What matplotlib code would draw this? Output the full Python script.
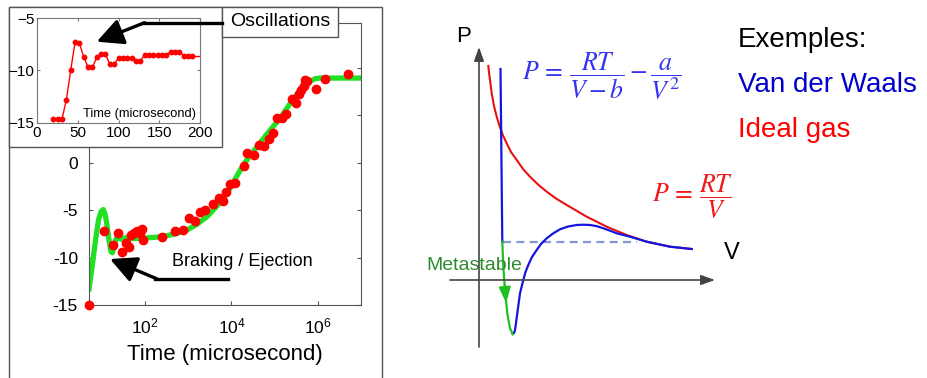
import numpy as np
import matplotlib
matplotlib.use('Agg')
import matplotlib.pyplot as plt
from matplotlib.patches import Rectangle, FancyArrowPatch
from matplotlib.lines import Line2D
from matplotlib.ticker import FuncFormatter, NullLocator

plt.rcParams['font.family'] = ['Liberation Sans', 'DejaVu Sans']
plt.rcParams['mathtext.fontset'] = 'custom'
plt.rcParams['mathtext.rm'] = 'Liberation Sans'
plt.rcParams['mathtext.it'] = 'Liberation Sans:italic'

W, H = 927, 378

# --- left panel: measured points (log10 of time in microseconds) ---
dot_logt = [0.70, 1.05, 1.25, 1.37, 1.47, 1.56, 1.63, 1.675, 1.745, 1.81, 1.87,
            1.92, 1.96, 2.40, 2.70, 2.87, 3.02, 3.16, 3.26, 3.39, 3.57, 3.70,
            3.80, 3.88, 3.97, 4.09, 4.28, 4.37, 4.51, 4.63, 4.76, 4.86, 4.96,
            5.06, 5.17, 5.26, 5.39, 5.49, 5.56, 5.62, 5.67, 5.70, 5.74, 5.96,
            6.17, 6.69]
dot_val = [-15.0, -7.25, -8.7, -7.4, -9.4, -8.5, -8.9, -7.6, -7.4, -7.25, -7.4,
           -7.0, -8.2, -7.8, -7.25, -7.1, -5.85, -6.2, -5.2, -4.95, -4.4, -3.7,
           -4.0, -3.1, -2.3, -2.1, -0.35, 1.0, 0.85, 1.9, 1.7, 2.5, 3.1,
           4.65, 4.7, 5.1, 6.7, 6.25, 7.2, 7.6, 8.1, 8.7, 8.6, 7.7,
           8.8, 9.3]

# model curve
fit_logt = [0.70, 0.77, 0.84, 0.92, 0.98, 1.03, 1.07, 1.11, 1.16, 1.21, 1.24,
            1.27, 1.32, 1.37, 1.45, 1.55, 1.70, 2.00, 2.40, 2.70, 2.97, 3.20,
            3.43, 3.60, 3.74, 3.90, 4.05, 4.28, 4.51, 4.82, 5.13, 5.37, 5.60,
            5.83, 5.95, 6.06, 7.00]
fit_val = [-13.3, -11.0, -8.5, -6.0, -5.15, -4.95, -5.4, -6.4, -8.1, -9.4, -9.5,
           -9.1, -8.1, -7.8, -8.1, -7.9, -8.0, -7.95, -7.8, -7.5, -7.1, -6.5,
           -5.7, -4.9, -4.2, -3.2, -2.0, -0.2, 1.2, 3.0, 4.7, 6.3, 7.7,
           8.6, 8.85, 8.9, 8.9]

# inset: first 200 microseconds
ins_t = [20, 25.3, 30.7, 36, 41.3, 46.7, 52, 57.3, 62.7, 68, 73.3, 78.7, 84,
         89.3, 94.7, 100, 105.3, 110.7, 116, 121.3, 126.7, 132, 137.3, 142.7,
         148, 153.3, 158.7, 164, 169.3, 174.7, 180, 185.3, 190.7]
ins_val = [-14.6, -14.6, -14.6, -12.8, -10.0, -7.3, -7.4, -8.7, -9.7, -9.7,
           -8.75, -8.4, -8.45, -9.4, -9.4, -8.8, -8.8, -8.8, -8.8, -9.1, -9.1,
           -8.5, -8.5, -8.5, -8.55, -8.55, -8.55, -8.2, -8.2, -8.2, -8.6, -8.6,
           -8.6]
ins_tail_t = [190.7, 200]
ins_tail_val = [-8.6, -8.6]

# --- right panel: schematic isotherms (V, P in arbitrary units) ---
ideal_v = [0.93, 1.02, 1.1, 1.27, 1.5, 1.77, 2.1, 2.4, 2.77, 3.2, 3.77, 4.4,
           5.1, 5.9, 6.77, 7.7, 8.77, 10.77, 12.77, 14.77, 16.77, 19.1, 21.27]
ideal_p = [21.4, 20.6, 20.0, 18.67, 17.4, 16.33, 15.27, 14.45, 13.67, 12.8,
           12.0, 11.1, 10.33, 9.55, 8.83, 8.15, 7.5, 6.33, 5.33, 4.5, 3.83,
           3.33, 3.1]
liquid_v = [2.15, 2.33]
liquid_p = [21.1, 3.83]
meta_v = [2.33, 2.43, 2.6, 2.83, 3.1, 3.37]
meta_p = [3.83, 1.33, -1.0, -3.33, -4.83, -5.4]
loop_v = [3.37, 3.5, 3.6, 3.7, 3.83, 4.1, 4.43, 4.65, 4.93, 5.3, 5.77, 6.2,
          6.77, 7.4, 8.1, 8.9, 9.77, 10.4, 11.1, 11.8, 12.43, 13.1, 13.77,
          15.1, 16.77, 19.1, 21.27]
loop_p = [-5.4, -5.3, -5.0, -4.3, -3.33, -1.33, 0.0, 0.8, 1.5, 2.3, 3.0, 3.6,
          4.17, 4.65, 5.07, 5.35, 5.5, 5.53, 5.5, 5.38, 5.17, 4.93, 4.67,
          4.33, 3.83, 3.33, 3.1]
plateau_v = [2.43, 15.77]
plateau_p = [3.77, 3.77]


def box(l, t, r, b):
    return [l / W, 1 - b / H, (r - l) / W, (b - t) / H]


def fp(x, y):
    return (x / W, 1 - y / H)


fig = plt.figure(figsize=(W / 100, H / 100), dpi=100)

# main axes
ax = fig.add_axes(box(89, 23, 361, 305))
ax.set_xscale('log')
ax.plot(10 ** np.array(fit_logt), fit_val, color='#22e022', lw=3.8, zorder=2)
ax.plot(10 ** np.array(dot_logt), dot_val, 'o', color='red', ms=6, zorder=3,
        clip_on=False)
ax.set_xlim(5, 1e7)
ax.set_ylim(-15, 14.7)
ax.set_xticks([1e2, 1e4, 1e6])
ax.xaxis.set_minor_locator(NullLocator())
ax.set_yticks([-15, -10, -5, 0, 5, 10])
ax.yaxis.set_major_formatter(FuncFormatter(lambda v, p: f'{v:g}'))
ax.tick_params(direction='in', top=True, right=True, length=3, labelsize=12.5,
               pad=8, color='#555555')
for s in ax.spines.values():
    s.set_color('#555555')
ax.set_xlabel('Time (microsecond)', fontsize=16, labelpad=6)

# outer frame of left panel
fig.add_artist(Rectangle(fp(9.3, 420), (381.7 - 9.3) / W, (420 - 7.3) / H,
                         transform=fig.transFigure, fill=False,
                         edgecolor='#555555', lw=1, zorder=0.5))
# inset frame
fig.add_artist(Rectangle(fp(9.3, 146.7), (221.7 - 9.3) / W, (146.7 - 7.3) / H,
                         transform=fig.transFigure, facecolor='white',
                         edgecolor='#555555', lw=1, zorder=1))

axi = fig.add_axes(box(37, 18, 200, 123))
axi.set_zorder(2)
axi.plot(ins_t, ins_val, '-o', color='red', lw=1, ms=3.2)
axi.plot(ins_tail_t, ins_tail_val, '-', color='red', lw=1)
axi.set_xlim(0, 200)
axi.set_ylim(-15, -5)
axi.set_xticks([0, 50, 100, 150, 200])
axi.set_yticks([-15, -10, -5])
axi.yaxis.set_major_formatter(FuncFormatter(lambda v, p: f'{v:g}'.replace('-', '\u2212')))
axi.tick_params(direction='in', top=True, right=True, length=2.5, labelsize=11,
                pad=2, color='#777777')
for s in axi.spines.values():
    s.set_color('#777777')
axi.text(0.975, 0.03, 'Time (microsecond)', transform=axi.transAxes, ha='right',
         va='bottom', fontsize=9.3)

# Oscillations label and arrow
fig.add_artist(Rectangle(fp(221.7, 36.7), (338 - 221.7) / W, (36.7 - 7.3) / H,
                         transform=fig.transFigure, facecolor='white',
                         edgecolor='#555555', lw=1, zorder=3))
fig.text(*fp(280, 22), 'Oscillations', ha='center', va='center', fontsize=14,
         zorder=4)
fig.add_artist(Line2D([221.7 / W, 143.3 / W], [1 - 22.7 / H] * 2,
                      transform=fig.transFigure, color='black', lw=2.4, zorder=4))
fig.add_artist(FancyArrowPatch(fp(144.5, 22.7), fp(96.7, 41.7),
                               transform=fig.transFigure,
                               arrowstyle='-|>,head_length=1.0,head_width=0.5',
                               mutation_scale=16, lw=2.4, color='black',
                               shrinkA=0, shrinkB=0, zorder=4))

# Braking / Ejection label and arrow
fig.text(*fp(171.7, 261), 'Braking / Ejection', ha='left', va='center',
         fontsize=13, zorder=4)
fig.add_artist(Line2D([228.3 / W, 155 / W], [1 - 278.7 / H] * 2,
                      transform=fig.transFigure, color='black', lw=2.4, zorder=4))
fig.add_artist(FancyArrowPatch(fp(156.5, 278.7), fp(110, 259),
                               transform=fig.transFigure,
                               arrowstyle='-|>,head_length=1.0,head_width=0.5',
                               mutation_scale=16, lw=2.4, color='black',
                               shrinkA=0, shrinkB=0, zorder=4))

# right panel
axr = fig.add_axes([400 / W, 0, 527 / W, 1])
axr.set_xlim(-7.9, 44.8)
axr.set_ylim(-9.8, 28)
axr.axis('off')

arr = dict(arrowstyle='-|>,head_length=0.7,head_width=0.25', color='#444444',
           lw=1.2, mutation_scale=12, shrinkA=0, shrinkB=0)
axr.annotate('', xy=(0, 23.3), xytext=(0, -6.7), arrowprops=arr)
axr.annotate('', xy=(23.6, 0), xytext=(-2.9, 0), arrowprops=arr)

axr.plot(plateau_v, plateau_p, color='#8595d8', lw=1.6, dashes=(3.6, 2.4))
axr.plot(ideal_v, ideal_p, color='#e81010', lw=1.5)
axr.plot(liquid_v, liquid_p, color='#1515e0', lw=1.6)
axr.plot(loop_v, loop_p, color='#1515e0', lw=1.6)
axr.plot(meta_v, meta_p, color='#20c020', lw=1.6)
axr.annotate('', xy=(2.72, -2.3), xytext=(2.55, -0.4),
             arrowprops=dict(arrowstyle='-|>,head_length=0.8,head_width=0.3',
                             color='#20c020', lw=1.4, mutation_scale=12,
                             shrinkA=0, shrinkB=0))

axr.text(-1.57, 24.33, 'P', ha='center', va='center', fontsize=16)
axr.text(25.27, 2.67, 'V', ha='center', va='center', fontsize=17)
axr.text(-0.5, 1.4, 'Metastable', ha='center', va='center', fontsize=14,
         color='#2e8b2e')
axr.text(12.3, 20.4, r'$P\,=\,\dfrac{RT}{V-b}-\dfrac{a}{V^{2}}$', ha='center',
         va='center', fontsize=18.5, color='#3535f0', math_fontfamily='stix')
axr.text(21.4, 8.3, r'$P\,=\,\dfrac{RT}{V}$', ha='center', va='center',
         fontsize=18.5, color='#f01818', math_fontfamily='stix')

axr.text(25.9, 23.33, 'Exemples:', ha='left', va='baseline', fontsize=20,
         color='black')
axr.text(25.9, 18.83, 'Van der Waals', ha='left', va='baseline', fontsize=20,
         color='#0000cc')
axr.text(25.9, 14.33, 'Ideal gas', ha='left', va='baseline', fontsize=20,
         color='#ff0000')

fig.savefig('out.png', dpi=100)
